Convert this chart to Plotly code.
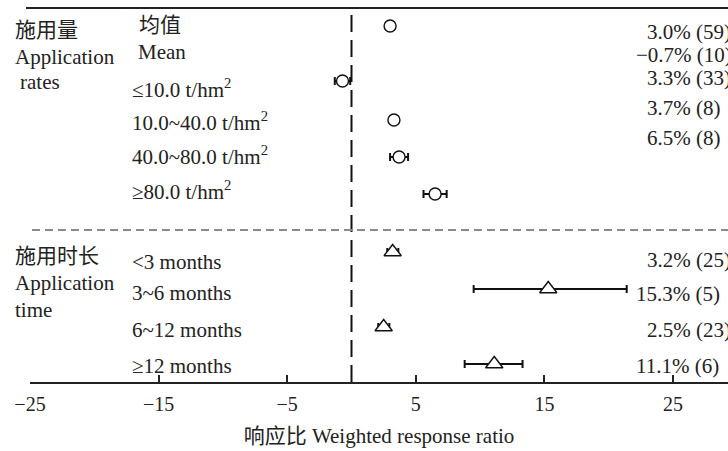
import plotly.graph_objects as go

# ---------------- data ----------------
mean_label_cn = "均值"
mean_label_en = "Mean"
mean_value = 3.0
mean_low = 2.7
mean_high = 3.3
mean_n = 59

rate_labels = ["≤10.0 t/hm<sup>2</sup>", "10.0~40.0 t/hm<sup>2</sup>",
               "40.0~80.0 t/hm<sup>2</sup>", "≥80.0 t/hm<sup>2</sup>"]
rate_values = [-0.7, 3.3, 3.7, 6.5]
rate_low = [-1.3, 3.0, 3.0, 5.6]
rate_high = [-0.1, 3.6, 4.4, 7.4]
rate_n = [10, 33, 8, 8]

time_labels = ["<3 months", "3~6 months", "6~12 months", "≥12 months"]
time_values = [3.2, 15.3, 2.5, 11.1]
time_low = [2.78, 9.5, 2.08, 8.8]
time_high = [3.64, 21.4, 2.94, 13.3]
time_n = [25, 5, 23, 6]

group1_title = ["施用量", "Application", "rates"]
group2_title = ["施用时长", "Application", "time"]
x_title = "响应比 Weighted response ratio"
x_ticks = [-25, -15, -5, 5, 15, 25]

# ---------------- layout constants (pixel rows) ----------------
W, H = 728, 451
L, T, B = 30, 8, 69
PX_PER_UNIT = 12.86
XMIN = -25
XMAX = XMIN + (W - L) / PX_PER_UNIT
Y_TOP, Y_BOT = T, H - B

mean_row = 26
rate_rows = [81, 120, 157, 194]
time_rows = [252, 289, 327, 364]
rate_label_rows = [88, 121, 155, 190]
time_label_rows = [262, 293, 330, 366]
right_rows_upper = [32, 55, 78, 108, 138]
right_rows_lower = [260, 294, 330, 366]
sep_row = 230

FONT = "Liberation Serif, 'Times New Roman', 'Noto Sans CJK SC', serif"
FS = 21
FS_TICK = 20


def px(xp):
    return (xp - L) / (W - L)


def fmt(v, n):
    s = f"{v:.1f}% ({n})"
    return s.replace("-", "−")


fig = go.Figure()

# circles (application rates incl. mean)
c_vals = [mean_value] + rate_values
c_low = [mean_low] + rate_low
c_high = [mean_high] + rate_high
c_rows = [mean_row] + rate_rows
fig.add_trace(go.Scatter(
    x=c_vals, y=c_rows, mode="markers",
    marker=dict(symbol="circle", size=12, color="white",
                line=dict(color="#111", width=1.4)),
    error_x=dict(type="data", symmetric=False,
                 array=[h - v for h, v in zip(c_high, c_vals)],
                 arrayminus=[v - l for v, l in zip(c_vals, c_low)],
                 color="#111", thickness=2, width=4),
    showlegend=False, cliponaxis=False, hoverinfo="skip",
))

# triangles (application time)
fig.add_trace(go.Scatter(
    x=time_values, y=time_rows, mode="markers",
    marker=dict(symbol="triangle-up", size=15, color="white",
                line=dict(color="#111", width=1.4)),
    error_x=dict(type="data", symmetric=False,
                 array=[h - v for h, v in zip(time_high, time_values)],
                 arrayminus=[v - l for v, l in zip(time_values, time_low)],
                 color="#111", thickness=2, width=4),
    showlegend=False, cliponaxis=False, hoverinfo="skip",
))

shapes = [
    # vertical dashed zero line
    dict(type="line", xref="x", yref="paper", x0=0, x1=0, y0=0, y1=1,
         line=dict(color="#111", width=2, dash="17px,8px")),
    # top frame line
    dict(type="line", xref="paper", yref="paper", x0=px(26), x1=1.01, y0=1, y1=1,
         line=dict(color="#222", width=2)),
    # grey separator
    dict(type="line", xref="paper", yref="y", x0=px(32), x1=1.01, y0=sep_row, y1=sep_row,
         line=dict(color="#8a8a8a", width=2, dash="8px,5px")),
]

ann = []


def add_text(text, xp, yrow, anchor="left"):
    ann.append(dict(text=text, xref="paper", yref="y", x=px(xp), y=yrow,
                    xanchor=anchor, yanchor="middle", showarrow=False,
                    font=dict(family=FONT, size=FS, color="#222")))


# group titles
for t, r, xo in zip(group1_title, [30, 57, 82], [13, 13, 18]):
    add_text(t, xo, r)
for t, r in zip(group2_title, [256, 283, 310]):
    add_text(t, 13, r)

# category labels
add_text(mean_label_cn, 137, 25)
add_text(mean_label_en, 136, 52)
for t, r in zip(rate_labels, rate_label_rows):
    add_text(t, 130, r)
for t, r in zip(time_labels, time_label_rows):
    add_text(t, 130, r)

# right-side value labels
up_vals = [mean_value] + rate_values
up_n = [mean_n] + rate_n
for v, n, r in zip(up_vals, up_n, right_rows_upper):
    shift = 11 if (v < 0 or abs(v) >= 10) else 0
    add_text(fmt(v, n), 645 - shift, r)
for v, n, r in zip(time_values, time_n, right_rows_lower):
    shift = 11 if (v < 0 or abs(v) >= 10) else 0
    add_text(fmt(v, n), 645 - shift, r)

fig.update_layout(
    width=W, height=H,
    margin=dict(l=L, r=0, t=T, b=B, pad=0),
    paper_bgcolor="white", plot_bgcolor="white",
    font=dict(family=FONT, size=FS, color="#222"),
    shapes=shapes, annotations=ann, hovermode=False,
    xaxis=dict(range=[XMIN, XMAX], tickvals=x_ticks, ticks="inside", ticklen=7,
               tickwidth=2, tickcolor="#222", showline=True, linecolor="#222",
               linewidth=2, showgrid=False, zeroline=False, automargin=False,
               ticklabelstandoff=3, fixedrange=True,
               tickfont=dict(family=FONT, size=FS_TICK, color="#222"),
               title=dict(text=x_title, standoff=14,
                          font=dict(family=FONT, size=FS, color="#222"))),
    yaxis=dict(range=[Y_BOT, Y_TOP], visible=False, showgrid=False,
               zeroline=False, fixedrange=True),
)

fig.write_html("out.html", config={"displayModeBar": False},
               post_script=["document.body.style.margin='0px';"
                            "document.body.style.overflow='hidden';"])
